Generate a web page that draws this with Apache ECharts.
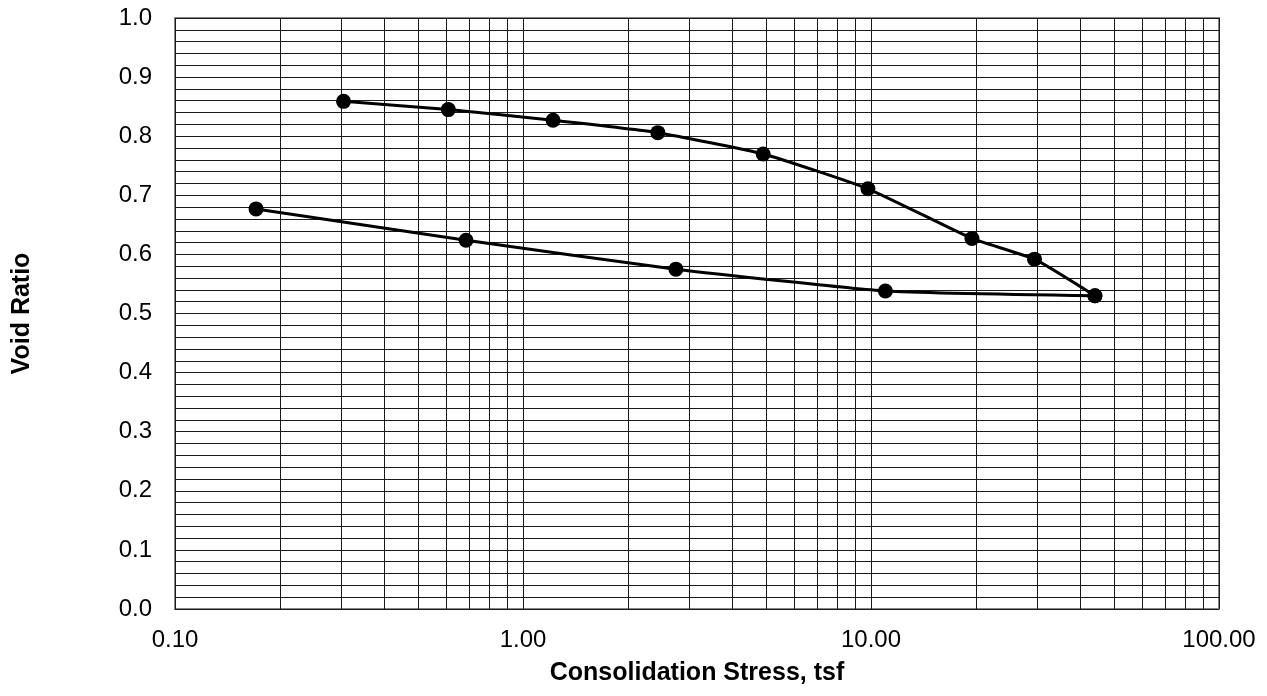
<!DOCTYPE html>
<html>
<head>
<meta charset="utf-8">
<script src="https://cdn.jsdelivr.net/npm/echarts@6/dist/echarts.min.js"></script>
<style>
  html, body { margin: 0; padding: 0; background: #fff; }
  #chart { width: 1267px; height: 696px; }
</style>
</head>
<body>
<div id="chart"></div>
<script>
// Consolidation test: void ratio vs. stress (log scale)
const loadStress = [0.305, 0.61, 1.22, 2.44, 4.9, 9.8, 19.5, 29.5, 44];
const loadVoid   = [0.859, 0.845, 0.827, 0.806, 0.770, 0.711, 0.627, 0.592, 0.530];
const unloadStress = [44, 11.0, 2.75, 0.686, 0.171];
const unloadVoid   = [0.530, 0.538, 0.575, 0.624, 0.677];

// vertical grid lines at 2..9 within each decade
const logMinorLines = [0.2, 0.3, 0.4, 0.5, 0.6, 0.7, 0.8, 0.9,
                       2, 3, 4, 5, 6, 7, 8, 9,
                       20, 30, 40, 50, 60, 70, 80, 90];

const FONT = "'Liberation Sans', Arial, sans-serif";
const GRID_COLOR = '#1a1a1a';

const pairs = (xs, ys) => xs.map((x, i) => [x, ys[i]]);

const chart = echarts.init(document.getElementById('chart'), null, { renderer: 'canvas' });

const curveStyle = {
  type: 'line',
  smooth: 0.15,
  symbol: 'circle',
  symbolSize: 15,
  itemStyle: { color: '#000' },
  lineStyle: { color: '#000', width: 3 },
  z: 10,
  animation: false
};

chart.setOption({
  animation: false,
  grid: {
    left: 175, right: 48, top: 18, bottom: 87,
    show: true, borderColor: '#888', borderWidth: 2, backgroundColor: '#fff'
  },
  xAxis: {
    type: 'log',
    logBase: 10,
    min: 0.1,
    max: 100,
    name: 'Consolidation Stress, tsf',
    nameLocation: 'middle',
    nameGap: 52,
    nameTextStyle: { fontFamily: FONT, fontSize: 25, fontWeight: 'bold', color: '#000' },
    axisLine: { show: false },
    axisTick: { show: false },
    axisLabel: {
      fontFamily: FONT, fontSize: 24, color: '#000', margin: 19,
      formatter: v => Number(v).toFixed(2)
    },
    splitLine: { show: true, lineStyle: { color: GRID_COLOR, width: 1 } }
  },
  yAxis: {
    type: 'value',
    min: 0,
    max: 1,
    interval: 0.1,
    name: 'Void Ratio',
    nameLocation: 'middle',
    nameGap: 140,
    nameRotate: 90,
    nameTextStyle: { fontFamily: FONT, fontSize: 25, fontWeight: 'bold', color: '#000' },
    axisLine: { show: false },
    axisTick: { show: false },
    axisLabel: {
      fontFamily: FONT, fontSize: 24, color: '#000', margin: 23,
      formatter: v => Number(v).toFixed(1)
    },
    splitLine: { show: true, lineStyle: { color: GRID_COLOR, width: 1 } },
    minorTick: { show: false, splitNumber: 5 },
    minorSplitLine: { show: true, lineStyle: { color: GRID_COLOR, width: 1 } }
  },
  series: [
    {
      type: 'line',
      data: [],
      silent: true,
      markLine: {
        silent: true,
        symbol: ['none', 'none'],
        label: { show: false },
        lineStyle: { color: GRID_COLOR, width: 1, type: 'solid' },
        emphasis: { disabled: true },
        data: logMinorLines.map(v => ({ xAxis: v }))
      },
      z: 1
    },
    Object.assign({ name: 'Loading', data: pairs(loadStress, loadVoid) }, curveStyle),
    Object.assign({ name: 'Unloading', data: pairs(unloadStress, unloadVoid) }, curveStyle)
  ]
});
</script>
</body>
</html>
